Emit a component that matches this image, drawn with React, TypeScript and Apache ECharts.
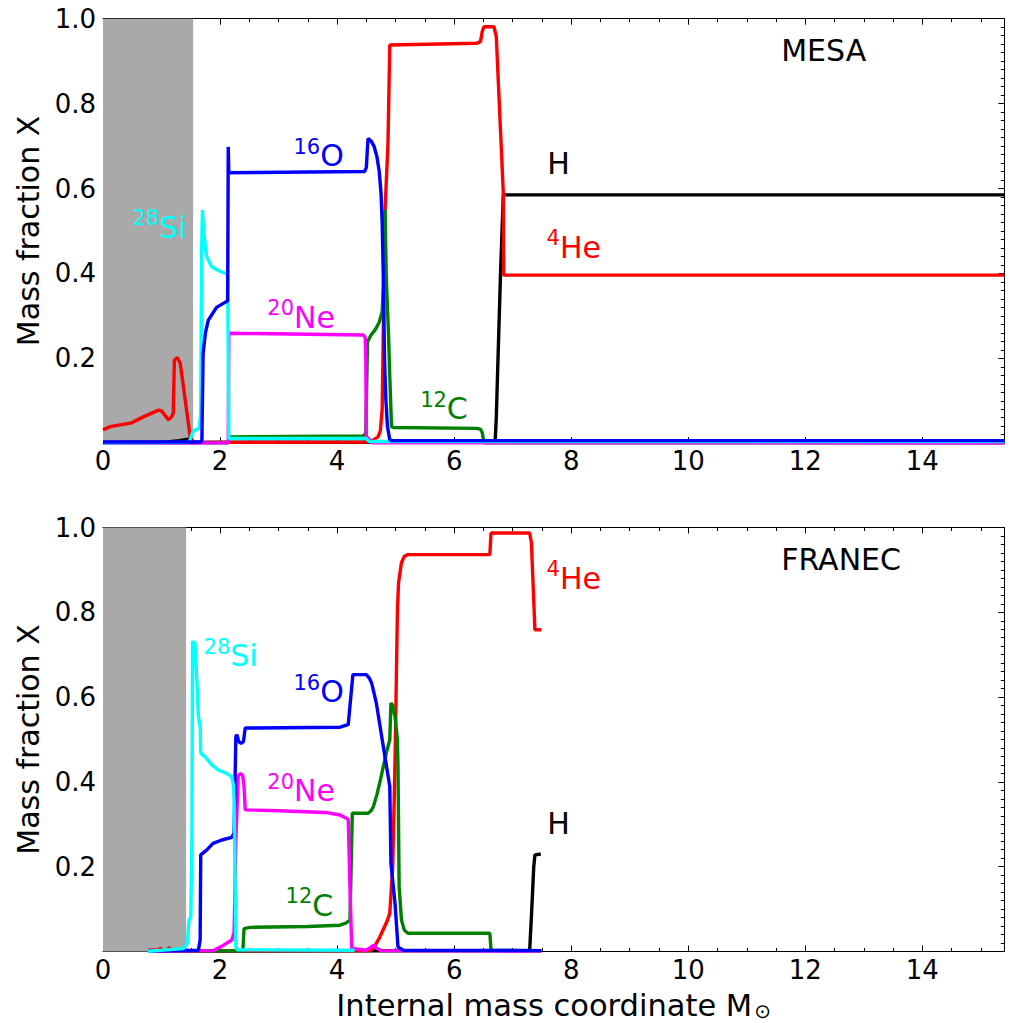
import React, { useEffect, useRef } from 'react';
import * as echarts from 'echarts';

const X_MAX = 15.4;
const mesaCoreEdge = 1.54;
const franecCoreEdge = 1.42;

// ---------- MESA (top panel) ----------
const mesaH = [[0, 0.002], [1.1, 0.003], [1.3, 0.006], [1.49, 0.01], [1.56, 0.002], [6.70, 0.003], [6.72, 0.06], [6.79, 0.39], [6.84, 0.585], [15.4, 0.585]];
const mesaHe = [[0, 0.031], [0.12, 0.039], [0.49, 0.048], [0.69, 0.062], [0.95, 0.078], [1.0, 0.076], [1.12, 0.055], [1.17, 0.062], [1.2, 0.07], [1.22, 0.196], [1.27, 0.202], [1.32, 0.188], [1.49, 0.015], [1.55, 0.002], [4.5, 0.003], [4.6, 0.006], [4.70, 0.015], [4.74, 0.03], [4.77, 0.08], [4.82, 0.55], [4.87, 0.71], [4.90, 0.938], [6.38, 0.942], [6.45, 0.946], [6.48, 0.97], [6.51, 0.981], [6.68, 0.981], [6.72, 0.958], [6.84, 0.589], [6.845, 0.396], [15.4, 0.396]];
const mesaC = [[0, 0.001], [2.14, 0.001], [2.16, 0.015], [4.45, 0.017], [4.49, 0.023], [4.50, 0.1], [4.52, 0.239], [4.58, 0.255], [4.65, 0.267], [4.72, 0.285], [4.77, 0.31], [4.80, 0.4], [4.82, 0.55], [4.84, 0.392], [4.88, 0.25], [4.90, 0.157], [4.93, 0.039], [4.96, 0.037], [6.38, 0.035], [6.45, 0.033], [6.48, 0.025], [6.50, 0.008], [6.52, 0.001], [15.4, 0.001]];
const mesaNe = [[0, 0.0005], [2.14, 0.001], [2.15, 0.259], [4.45, 0.255], [4.48, 0.248], [4.49, 0.2], [4.50, 0.015], [4.56, 0.008], [4.6, 0.001], [15.4, 0.0005]];
const mesaO = [[0, 0.003], [1.67, 0.003], [1.69, 0.008], [1.71, 0.21], [1.75, 0.26], [1.80, 0.29], [1.94, 0.32], [2.10, 0.333], [2.13, 0.335], [2.14, 0.698], [2.15, 0.637], [4.47, 0.64], [4.50, 0.65], [4.52, 0.70], [4.53, 0.718], [4.58, 0.712], [4.63, 0.70], [4.68, 0.675], [4.72, 0.64], [4.75, 0.59], [4.77, 0.52], [4.79, 0.39], [4.81, 0.2], [4.83, 0.11], [4.86, 0.04], [4.90, 0.008], [4.93, 0.006], [15.4, 0.006]];
const mesaSi = [[0, 0.001], [1.45, 0.002], [1.49, 0.008], [1.53, 0.025], [1.57, 0.031], [1.645, 0.035], [1.67, 0.07], [1.685, 0.45], [1.70, 0.549], [1.72, 0.50], [1.77, 0.44], [1.86, 0.415], [2.0, 0.405], [2.13, 0.398], [2.15, 0.011], [4.5, 0.011], [4.55, 0.004], [15.4, 0.004]];

// ---------- FRANEC (bottom panel) ----------
const franecH = [[0.77, 0.001], [7.29, 0.002], [7.32, 0.082], [7.36, 0.2], [7.38, 0.228], [7.48, 0.23]];
const franecHe = [[0.77, 0.003], [0.95, 0.004], [0.98, 0.008], [1.02, 0.004], [1.10, 0.004], [1.13, 0.009], [1.18, 0.004], [1.5, 0.002], [4.55, 0.002], [4.62, 0.007], [4.73, 0.034], [4.85, 0.07], [4.90, 0.09], [4.95, 0.2], [4.99, 0.45], [5.03, 0.8], [5.05, 0.87], [5.10, 0.917], [5.15, 0.932], [5.21, 0.936], [6.61, 0.936], [6.63, 0.987], [7.29, 0.987], [7.32, 0.964], [7.38, 0.759], [7.49, 0.759]];
const franecC = [[0.77, 0.001], [2.39, 0.002], [2.41, 0.054], [2.51, 0.057], [3.5, 0.059], [4.05, 0.062], [4.15, 0.067], [4.22, 0.074], [4.24, 0.2], [4.26, 0.326], [4.53, 0.326], [4.58, 0.332], [4.62, 0.342], [4.68, 0.37], [4.74, 0.405], [4.84, 0.468], [4.90, 0.499], [4.92, 0.586], [4.95, 0.58], [4.99, 0.554], [5.03, 0.5], [5.04, 0.44], [5.06, 0.153], [5.10, 0.074], [5.15, 0.05], [5.21, 0.043], [6.61, 0.043], [6.63, 0.003], [7.49, 0.002]];
const franecO = [[0.77, 0.001], [1.63, 0.003], [1.66, 0.027], [1.67, 0.228], [1.77, 0.239], [1.88, 0.255], [2.03, 0.263], [2.20, 0.269], [2.24, 0.28], [2.27, 0.507], [2.29, 0.511], [2.32, 0.495], [2.36, 0.491], [2.40, 0.495], [2.43, 0.527], [4.05, 0.529], [4.19, 0.535], [4.27, 0.653], [4.50, 0.653], [4.55, 0.645], [4.59, 0.633], [4.63, 0.61], [4.67, 0.586], [4.79, 0.483], [4.90, 0.389], [4.91, 0.3], [4.92, 0.208], [4.99, 0.113], [5.04, 0.011], [5.13, 0.003], [7.49, 0.002]];
const franecNe = [[0.77, 0.0005], [1.88, 0.002], [2.06, 0.015], [2.20, 0.027], [2.24, 0.045], [2.27, 0.263], [2.31, 0.412], [2.34, 0.42], [2.386, 0.416], [2.41, 0.389], [2.43, 0.334], [3.0, 0.332], [3.8, 0.328], [4.05, 0.322], [4.19, 0.312], [4.22, 0.15], [4.25, 0.007], [4.5, 0.003], [4.58, 0.01], [4.62, 0.015], [4.67, 0.008], [4.75, 0.002], [7.49, 0.001]];
const franecSi = [[0.77, 0.0005], [1.37, 0.007], [1.42, 0.015], [1.44, 0.019], [1.47, 0.074], [1.50, 0.082], [1.52, 0.279], [1.53, 0.731], [1.57, 0.728], [1.60, 0.65], [1.63, 0.554], [1.66, 0.531], [1.67, 0.468], [1.74, 0.46], [1.86, 0.44], [1.97, 0.428], [2.11, 0.42], [2.20, 0.412], [2.23, 0.39], [2.24, 0.357], [2.27, 0.011], [2.3, 0.004], [4.3, 0.003]];

// ---------- annotations: [superscript, text, x, y, species] ----------
const mesaLabels: [string, string, number, number, string][] = [
  ['', 'MESA', 11.58, 0.924, 'K'],
  ['', 'H', 7.58, 0.658, 'H'],
  ['4', 'He', 7.57, 0.462, 'He'],
  ['16', 'O', 3.245, 0.677, 'O'],
  ['20', 'Ne', 2.80, 0.297, 'Ne'],
  ['28', 'Si', 0.495, 0.509, 'Si'],
  ['12', 'C', 5.41, 0.081, 'C'],
];
const franecLabels: [string, string, number, number, string][] = [
  ['', 'FRANEC', 11.58, 0.925, 'K'],
  ['4', 'He', 7.57, 0.880, 'He'],
  ['', 'H', 7.58, 0.301, 'H'],
  ['16', 'O', 3.245, 0.613, 'O'],
  ['28', 'Si', 1.71, 0.698, 'Si'],
  ['20', 'Ne', 2.80, 0.379, 'Ne'],
  ['12', 'C', 3.11, 0.109, 'C'],
];

const yTicks = [0.2, 0.4, 0.6, 0.8, 1.0];
const xTickStep = 2;
const xMinorStep = 0.5;
const yLabel = 'Mass fraction X';
const xLabel = 'Internal mass coordinate M';

const FONT = '"DejaVu Sans", "Liberation Sans", sans-serif';
const COLORS: Record<string, string> = {
  K: '#000000', H: '#000000', He: '#ff0000', C: '#008000', O: '#0000ff', Ne: '#ff00ff', Si: '#00ffff',
};
const LINE_W = 3.4;

function lineSeries(name: string, data: number[][], key: string, xi: number, yi: number) {
  return {
    type: 'line', name, data, xAxisIndex: xi, yAxisIndex: yi,
    symbol: 'none', showSymbol: false, silent: true, z: 3,
    lineStyle: { color: COLORS[key], width: LINE_W }, itemStyle: { color: COLORS[key] },
  };
}

function labelSeries(labels: [string, string, number, number, string][], xi: number, yi: number) {
  return {
    type: 'scatter', xAxisIndex: xi, yAxisIndex: yi, symbolSize: 1, silent: true, z: 5,
    itemStyle: { color: 'transparent' },
    data: labels.map(([sup, txt, x, y, key]) => ({
      value: [x, y],
      label: {
        show: true, position: 'right', distance: 0, color: COLORS[key], opacity: 1,
        textBorderWidth: 0,
        formatter: (sup ? `{sup|${sup}}` : '') + `{main|${txt}}`,
        rich: {
          main: { fontSize: 30, fontFamily: FONT, color: COLORS[key], lineHeight: 30, height: 30, verticalAlign: 'bottom', textBorderWidth: 0 },
          sup: { fontSize: 21, fontFamily: FONT, color: COLORS[key], lineHeight: 12, height: 12, verticalAlign: 'top', textBorderWidth: 0 },
        },
      },
    })),
  };
}

function coreArea(edge: number, xi: number, yi: number) {
  return {
    type: 'line', data: [], xAxisIndex: xi, yAxisIndex: yi, silent: true, z: 1,
    markArea: { silent: true, itemStyle: { color: '#a9a9a9', opacity: 1 }, data: [[{ xAxis: 0 }, { xAxis: edge }]] },
  };
}

const tickStyle = { color: '#000', width: 1 };

function mainX(gridIndex: number, position: string, labels: boolean, withName: boolean) {
  return {
    type: 'value', gridIndex, position, min: 0, max: X_MAX, interval: xTickStep,
    axisLine: { show: true, onZero: false, lineStyle: { color: '#000', width: 1 } },
    axisTick: { show: true, inside: true, length: 6, lineStyle: tickStyle },
    minorTick: { show: false },
    splitLine: { show: false },
    axisLabel: {
      show: labels, margin: 5, fontSize: 26, fontFamily: FONT, color: '#000',
      showMaxLabel: false,
      formatter: (v: number) => (Math.abs(v / xTickStep - Math.round(v / xTickStep)) < 1e-6 ? String(Math.round(v)) : ''),
    },
    name: withName ? `${xLabel}{sub|⊙}` : '',
    nameLocation: 'middle', nameGap: 38,
    nameTextStyle: {
      fontSize: 30.5, fontFamily: FONT, color: '#000',
      rich: { sub: { fontSize: 20, fontFamily: FONT, color: '#000', verticalAlign: 'bottom', lineHeight: 30, padding: [0, 0, 0, 2] } },
    },
  };
}
function minorX(gridIndex: number, position: string) {
  return {
    type: 'value', gridIndex, position, min: 0, max: X_MAX, interval: xMinorStep,
    axisLine: { show: false },
    axisTick: { show: true, inside: true, length: 3.5, lineStyle: tickStyle },
    splitLine: { show: false }, axisLabel: { show: false },
  };
}
function mainY(gridIndex: number, position: string, labels: boolean) {
  return {
    type: 'value', gridIndex, position, min: 0, max: 1, interval: 0.2,
    axisLine: { show: true, onZero: false, lineStyle: { color: '#000', width: 1 } },
    axisTick: { show: true, inside: true, length: 6, lineStyle: tickStyle },
    minorTick: { show: true, splitNumber: 10, length: 3.5, lineStyle: tickStyle },
    splitLine: { show: false },
    axisLabel: {
      show: labels, margin: 7, fontSize: 26, fontFamily: FONT, color: '#000',
      formatter: (v: number) => (yTicks.some((t) => Math.abs(t - v) < 1e-6) ? v.toFixed(1) : ''),
    },
    name: labels ? yLabel : '',
    nameLocation: 'middle', nameGap: 58,
    nameTextStyle: { fontSize: 30, fontFamily: FONT, color: '#000' },
  };
}
function hiddenY(gridIndex: number) {
  return { type: 'value', gridIndex, min: 0, max: 1, show: false };
}

export default function App() {
  const ref = useRef<HTMLDivElement>(null);
  useEffect(() => {
    document.body.style.margin = '0';
    if (!ref.current) return;
    const chart = echarts.init(ref.current, undefined, { renderer: 'svg' });
    const topGrid = { left: 103, top: 18.7, width: 901.3, height: 424.5 };
    const botGrid = { left: 103, top: 527.5, width: 901.3, height: 424 };
    chart.setOption({
      animation: false,
      backgroundColor: '#ffffff',
      grid: [topGrid, { ...topGrid }, botGrid, { ...botGrid }],
      xAxis: [
        mainX(0, 'bottom', true, false), mainX(0, 'top', false, false),
        minorX(1, 'bottom'), minorX(1, 'top'),
        mainX(2, 'bottom', true, true), mainX(2, 'top', false, false),
        minorX(3, 'bottom'), minorX(3, 'top'),
      ],
      yAxis: [
        mainY(0, 'left', true), mainY(0, 'right', false), hiddenY(1),
        mainY(2, 'left', true), mainY(2, 'right', false), hiddenY(3),
      ],
      series: [
        coreArea(mesaCoreEdge, 0, 0),
        lineSeries('H', mesaH, 'H', 0, 0),
        lineSeries('He', mesaHe, 'He', 0, 0),
        lineSeries('C', mesaC, 'C', 0, 0),
        lineSeries('Ne', mesaNe, 'Ne', 0, 0),
        lineSeries('Si', mesaSi, 'Si', 0, 0),
        lineSeries('O', mesaO, 'O', 0, 0),
        labelSeries(mesaLabels, 0, 0),
        coreArea(franecCoreEdge, 4, 3),
        lineSeries('H', franecH, 'H', 4, 3),
        lineSeries('He', franecHe, 'He', 4, 3),
        lineSeries('C', franecC, 'C', 4, 3),
        lineSeries('Ne', franecNe, 'Ne', 4, 3),
        lineSeries('O', franecO, 'O', 4, 3),
        lineSeries('Si', franecSi, 'Si', 4, 3),
        labelSeries(franecLabels, 4, 3),
      ],
    });
    return () => chart.dispose();
  }, []);
  return <div ref={ref} style={{ width: 1011, height: 1023 }} />;
}
